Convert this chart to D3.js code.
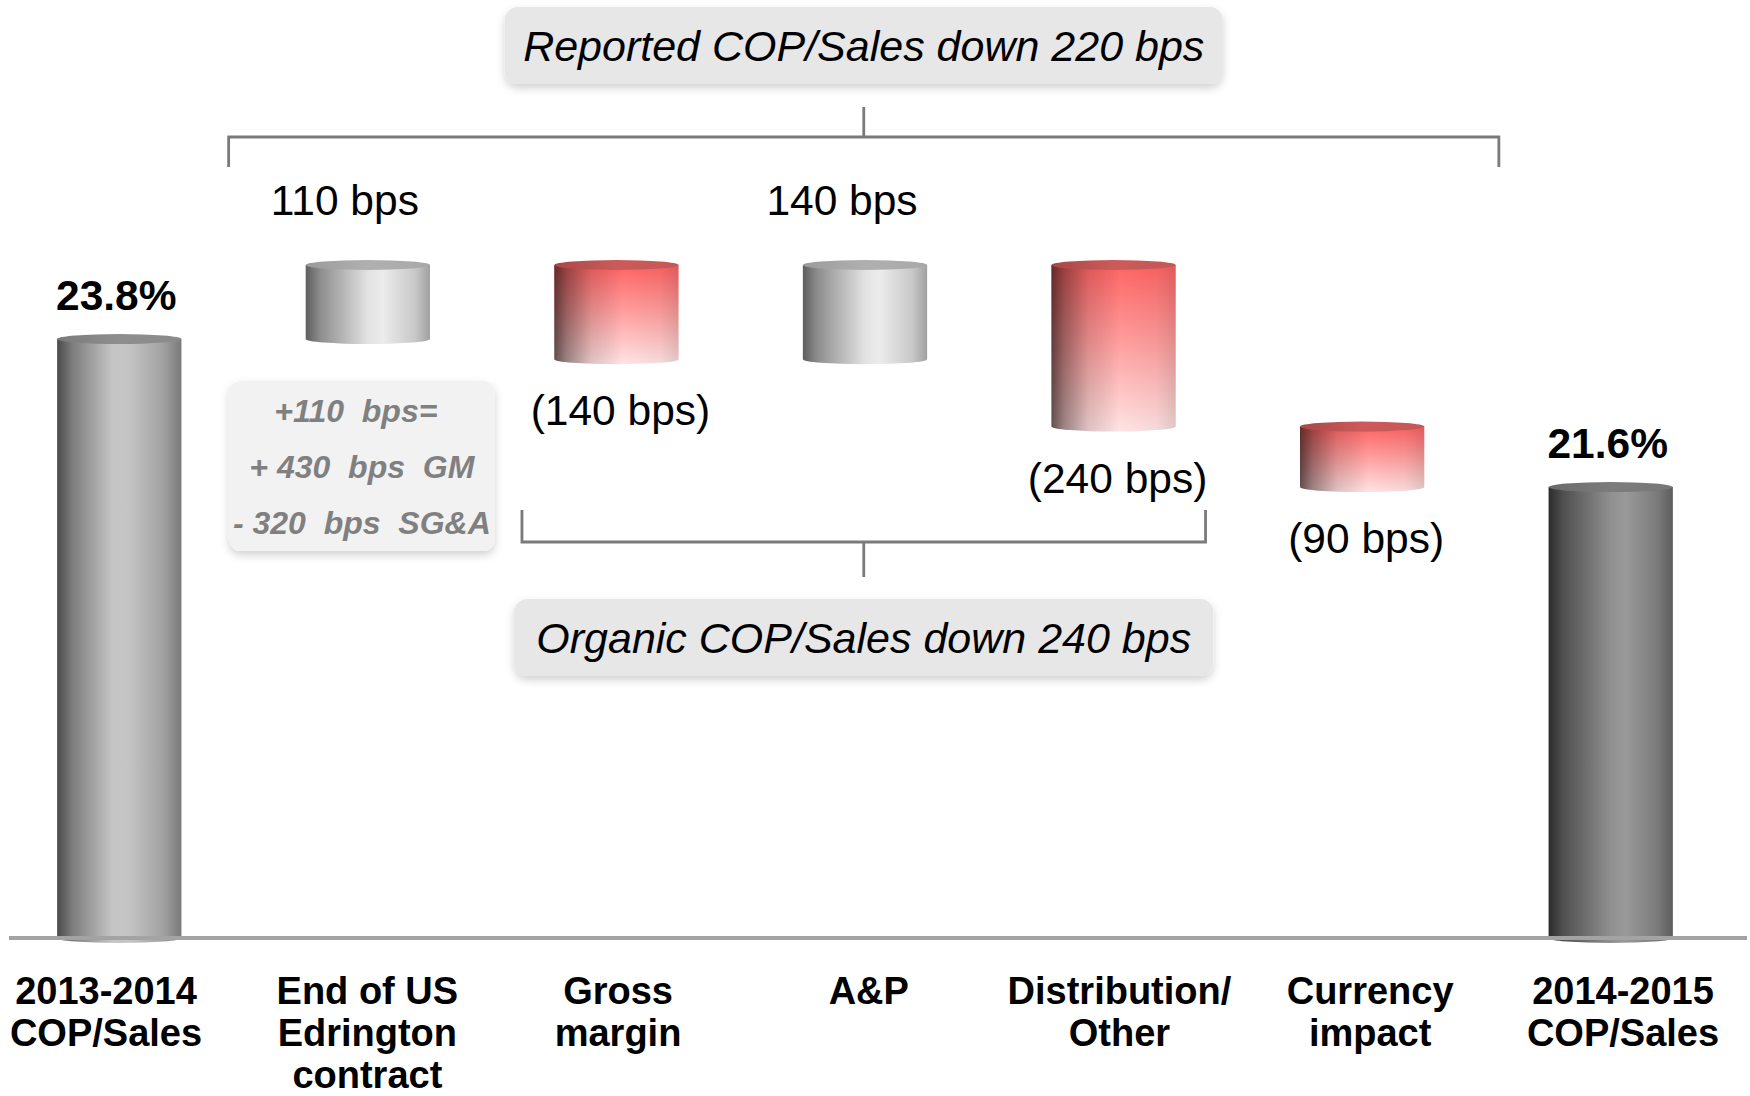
<!DOCTYPE html>
<html><head><meta charset="utf-8">
<script src="https://cdn.jsdelivr.net/npm/d3@7"></script>
<style>
body{margin:0;background:#fff}
svg{display:block}
text{font-family:"Liberation Sans",Arial,sans-serif}
</style>
</head><body>
<svg id="chart" width="1750" height="1096"></svg>
<script>
// ---------- data ----------
const categories = [
  ["2013-2014","COP/Sales"],
  ["End of US","Edrington","contract"],
  ["Gross","margin"],
  ["A&P"],
  ["Distribution/","Other"],
  ["Currency","impact"],
  ["2014-2015","COP/Sales"]
];
const values = [23.8, 1.1, -1.4, 1.4, -2.4, -0.9, 21.6];   // % and %-point changes
const kinds  = ["total","delta","delta","delta","delta","delta","total"];
const valueLabels = ["23.8%","110 bps","(140 bps)","140 bps","(240 bps)","(90 bps)","21.6%"];
const reportedNote = "Reported COP/Sales down 220 bps";
const organicNote  = "Organic COP/Sales down 240 bps";
const edringtonNote = ["+110  bps=", "+ 430  bps  GM", "- 320  bps  SG&A"];
const yDomain = [14.9, 24.9];

// ---------- layout ----------
const svg = d3.select("#chart");
const x = d3.scaleBand().domain(d3.range(categories.length))
  .range([-5, 1735]).paddingInner(0.5).paddingOuter(0.25);
const xLabel = d3.scalePoint().domain(d3.range(categories.length)).range([106, 1623]);
const y = d3.scaleLinear().domain(yDomain).range([938, 265]);
const bw = x.bandwidth(), step = x.step(), ry = 5;

// waterfall segments
let running = 0;
const bars = values.map((v, i) => {
  let lo, hi, style;
  if (kinds[i] === "total") {
    lo = yDomain[0]; hi = v; running = v;
    style = i === 0 ? "gMid" : "gDark";
  } else {
    const a = running, b = running + v;
    lo = Math.min(a, b); hi = Math.max(a, b); running = b;
    style = v >= 0 ? "gLight" : "red";
  }
  return {i, v, lo, hi, style, kind: kinds[i]};
});

// ---------- defs ----------
const defs = svg.append("defs");
function hGrad(id, stops) {
  const g = defs.append("linearGradient").attr("id", id)
    .attr("x1","0%").attr("x2","100%").attr("y1","0%").attr("y2","0%");
  stops.forEach(s => g.append("stop").attr("offset", s[0]).attr("stop-color", s[1])
    .attr("stop-opacity", s[2] === undefined ? 1 : s[2]));
}
function vGrad(id, stops) {
  const g = defs.append("linearGradient").attr("id", id)
    .attr("x1","0%").attr("x2","0%").attr("y1","0%").attr("y2","100%");
  stops.forEach(s => g.append("stop").attr("offset", s[0]).attr("stop-color", s[1]));
}
hGrad("gMid",  [["0%","#4a4a4a"],["12%","#7c7c7c"],["45%","#c6c6c6"],["58%","#c4c4c4"],["85%","#a2a2a2"],["100%","#7a7a7a"]]);
hGrad("gDark", [["0%","#2c2c2c"],["12%","#505050"],["50%","#909090"],["62%","#999999"],["88%","#7a7a7a"],["100%","#5c5c5c"]]);
hGrad("gLight",[["0%","#5e5e5e"],["12%","#8e8e8e"],["50%","#e2e2e2"],["62%","#ececec"],["88%","#c8c8c8"],["100%","#a0a0a0"]]);
vGrad("redV",  [["0%","#ff6464"],["45%","#ff9c9c"],["100%","#ffe4e4"]]);
hGrad("redShade", [["0%","#201010",0.7],["10%","#201010",0.45],["30%","#201010",0.15],["55%","#000",0],["85%","#000",0.04],["100%","#000",0.12]]);
hGrad("topMid",  [["0%","#7a7a7a"],["50%","#8e8e8e"],["100%","#8a8a8a"]]);
hGrad("topDark", [["0%","#6a6a6a"],["50%","#7c7c7c"],["100%","#777"]]);
hGrad("topLight",[["0%","#9a9a9a"],["50%","#b0b0b0"],["100%","#a8a8a8"]]);
hGrad("topRed",  [["0%","#a84848"],["50%","#cc5a5a"],["100%","#c45858"]]);
const topFill = {gMid:"url(#topMid)", gDark:"url(#topDark)", gLight:"url(#topLight)", red:"url(#topRed)"};

const sh = defs.append("filter").attr("id","shadow").attr("x","-10%").attr("y","-20%").attr("width","120%").attr("height","160%");
sh.append("feDropShadow").attr("dx",0).attr("dy",4).attr("stdDeviation",4)
  .attr("flood-color","#000").attr("flood-opacity",0.18);

// ---------- bars (cylinders) ----------
const gBars = svg.append("g");
bars.forEach(d => {
  const x0 = x(d.i), x1 = x0 + bw, top = y(d.hi), bot = y(d.lo);
  const side = `M${x0},${top} V${bot} A${bw/2},${ry} 0 0 0 ${x1},${bot} V${top} Z`;
  if (d.style === "red") {
    gBars.append("path").attr("d", side).attr("fill","url(#redV)");
    gBars.append("path").attr("d", side).attr("fill","url(#redShade)");
  } else {
    gBars.append("path").attr("d", side).attr("fill", `url(#${d.style})`);
  }
  gBars.append("ellipse").attr("cx", x0 + bw/2).attr("cy", top)
    .attr("rx", bw/2).attr("ry", ry).attr("fill", topFill[d.style]);
});

// axis baseline
svg.append("line").attr("x1", 9).attr("x2", 1747).attr("y1", y(yDomain[0])).attr("y2", y(yDomain[0]))
  .attr("stroke","#a3a3a3").attr("stroke-width",4);

// ---------- value labels ----------
bars.forEach(d => {
  const cx = x(d.i) + bw/2;
  let tx = cx, ty, bold = false;
  if (d.kind === "total") { ty = y(d.hi) - 29; bold = true; tx = cx - 3; }
  else if (d.v >= 0) { ty = y(d.hi) - 50; tx = cx - 23; }
  else { ty = y(d.lo) + 66; tx = cx + 4; }
  svg.append("text").attr("x", tx).attr("y", ty).attr("text-anchor","middle")
    .attr("font-size", 42.5).attr("font-weight", bold ? "bold" : "normal")
    .attr("fill","#000").text(valueLabels[d.i]);
});

// ---------- category labels ----------
const catG = svg.append("g");
categories.forEach((lines, i) => {
  const cx = i === 0 || i === categories.length - 1 ? xLabel(i) : (xLabel(i) + x(i) + bw/2) / 2 + 4;
  const t = catG.append("text").attr("text-anchor","middle").attr("font-size",38)
    .attr("font-weight","bold").attr("fill","#000");
  lines.forEach((ln, j) => t.append("tspan").attr("x", cx).attr("y", 1004 + j*42).text(ln));
});

// ---------- brackets ----------
function bracket(xl, xr, yy, tickDir, tickLen, stemLen) {
  const g = svg.append("g").attr("stroke","#7a7a7a").attr("stroke-width",2.8).attr("fill","none");
  g.append("path").attr("d", `M${xl},${yy + tickDir*tickLen} V${yy} H${xr} V${yy + tickDir*tickLen}`);
  const cx = (xl + xr)/2;
  g.append("line").attr("x1", cx).attr("x2", cx).attr("y1", yy).attr("y2", yy - tickDir*stemLen);
  return cx;
}
const topL = x(1) - 0.31*step, topR = x(5) + bw + 0.30*step;
const topC = bracket(topL, topR, 137, 1, 30, 30);
const botL = x(2) - 0.13*step, botR = x(4) + bw + 0.12*step;
const botC = bracket(botL, botR, 542, -1, 32, 35);

// ---------- callouts ----------
function callout(cx, yTop, w, h, fill, r) {
  svg.append("rect").attr("x", cx - w/2).attr("y", yTop).attr("width", w).attr("height", h)
    .attr("rx", r).attr("ry", r).attr("fill", fill).attr("filter","url(#shadow)");
}
callout(topC, 7, 718, 77, "#e7e7e7", 13);
svg.append("text").attr("x", topC).attr("y", 61).attr("text-anchor","middle")
  .attr("font-size",43).attr("font-style","italic").attr("fill","#000").text(reportedNote);

callout(botC, 599, 699, 77, "#e7e7e7", 13);
svg.append("text").attr("x", botC).attr("y", 653).attr("text-anchor","middle")
  .attr("font-size",43).attr("font-style","italic").attr("fill","#000").text(organicNote);

// Edrington breakdown note
const noteCx = x(1) + bw/2 - 6;
svg.append("rect").attr("x", noteCx - 133).attr("y", 381).attr("width", 266).attr("height", 170)
  .attr("rx", 12).attr("ry", 12).attr("fill","#f2f2f2").attr("filter","url(#shadow)");
const nt = svg.append("text").attr("text-anchor","middle").attr("font-size",32)
  .attr("font-weight","bold").attr("font-style","italic").attr("fill","#808080")
  .style("white-space","pre");
edringtonNote.forEach((ln, j) => nt.append("tspan").attr("x", noteCx - (j === 0 ? 6 : 0)).attr("y", 422 + j*56).text(ln));
</script>
</body></html>
